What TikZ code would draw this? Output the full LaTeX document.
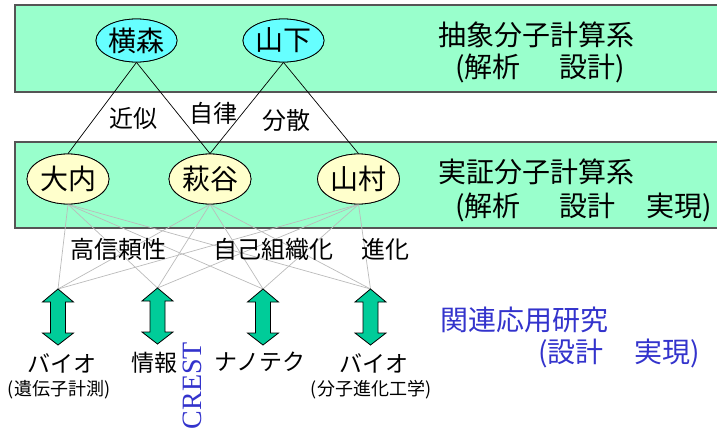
\documentclass[tikz,border=0pt]{standalone}
\usepackage{fontspec}
\newfontfamily\jp{Noto Sans CJK JP}
\newfontfamily\serifcrest{Liberation Serif}
\usetikzlibrary{shapes.geometric}
\definecolor{bandfill}{HTML}{99FFCC}
\definecolor{bandline}{HTML}{555555}
\definecolor{cyanfill}{HTML}{66FFFF}
\definecolor{yellowfill}{HTML}{FFFFCC}
\definecolor{arrowfill}{HTML}{00CC99}
\definecolor{linkgray}{HTML}{BBBBBB}
\definecolor{bluetext}{HTML}{3333CC}
\tikzset{
  band/.style={draw=bandline, line width=1.3pt, fill=bandfill},
  person/.style={ellipse, draw=black, line width=0.8pt, inner sep=0pt,
    font=\jp\fontsize{28}{28}\selectfont},
  topperson/.style={person, fill=cyanfill, minimum width=81pt, minimum height=43pt},
  lowperson/.style={person, fill=yellowfill, minimum width=82pt, minimum height=50pt},
  mainlink/.style={draw=black, line width=0.7pt},
  graylink/.style={draw=linkgray, line width=0.7pt},
  biglabel/.style={inner sep=0pt, anchor=west, font=\jp\fontsize{28}{28}\selectfont},
  midlabel/.style={inner sep=0pt, font=\jp\fontsize{24}{24}\selectfont},
  applabel/.style={inner sep=0pt, font=\jp\fontsize{23}{23}\selectfont},
  sublabel/.style={inner sep=0pt, font=\jp\fontsize{18}{18}\selectfont},
  arrowshape/.style={draw=black, line width=0.8pt, fill=arrowfill, line join=miter},
}
\begin{document}
\begin{tikzpicture}[x=1pt, y=-1pt]
\useasboundingbox (0,0) rectangle (717,431);
% bands
\draw[band] (15,5) rectangle (718,92);
\draw[band] (15,142) rectangle (718,228);
% right side texts
\node[biglabel] (abs) at (438,35) {抽象分子計算系};
\node[biglabel] (absnote) at (455,68) {(解析\hspace{39pt}設計)};
\node[biglabel] (emp) at (438,172) {実証分子計算系};
\node[biglabel] (empnote) at (455,207) {(解析\hspace{39pt}設計\hspace{31pt}実現)};
\node[biglabel, text=bluetext] (app) at (440,320) {関連応用研究};
\node[biglabel, text=bluetext] (appnote) at (538,353) {(設計\hspace{31pt}実現)};
% people
\node[topperson] (yokomori) at (136.5,40.5) {横森};
\node[topperson] (yamashita) at (283.5,40.5) {山下};
\node[lowperson] (ouchi) at (68,179) {大内};
\node[lowperson] (hagiya) at (210,179) {萩谷};
\node[lowperson] (yamamura) at (358.5,179) {山村};
% arrow tips
\coordinate (tip1) at (58,289);
\coordinate (tip2) at (157.5,288);
\coordinate (tip3) at (263,289);
\coordinate (tip4) at (370.5,289);
% gray links
\foreach \s in {ouchi,hagiya,yamamura}{
  \foreach \t in {tip1,tip2,tip3,tip4}{
    \draw[graylink] (\s.south) -- (\t);
  }
}
% black links
\draw[mainlink] (yokomori.south) -- (ouchi.north);
\draw[mainlink] (yokomori.south) -- (hagiya.north);
\draw[mainlink] (yamashita.south) -- (hagiya.north);
\draw[mainlink] (yamashita.south) -- (yamamura.north);
% redraw people on top
\node[topperson] at (yokomori) {横森};
\node[topperson] at (yamashita) {山下};
\node[lowperson] at (ouchi) {大内};
\node[lowperson] at (hagiya) {萩谷};
\node[lowperson] at (yamamura) {山村};
% link labels
\node[midlabel] (kinji) at (133,119) {近似};
\node[midlabel] (jiritsu) at (213,113) {自律};
\node[midlabel] (bunsan) at (286,120) {分散};
\node[midlabel] (koshin) at (118.5,249) {高信頼性};
\node[midlabel] (jiko) at (273,249) {自己組織化};
\node[midlabel] (shinka) at (385,249) {進化};
% double arrows
\foreach \t in {tip1,tip2,tip3,tip4}{
  \draw[arrowshape, shift={(\t)}] (0,0) -- (15.5,13) -- (7.5,13) -- (7.5,44) -- (15.5,44)
    -- (0,56) -- (-15.5,44) -- (-7.5,44) -- (-7.5,13) -- (-15.5,13) -- cycle;
}
% application labels
\node[applabel] (bio1) at (62,363) {バイオ};
\node[sublabel] (bio1note) at (59,390) {(遺伝子計測)};
\node[applabel] (info) at (154.5,363) {情報};
\node[applabel] (nano) at (260,362) {ナノテク};
\node[applabel] (bio2) at (374,363) {バイオ};
\node[sublabel] (bio2note) at (371,390) {(分子進化工学)};
\node[rotate=90, anchor=east, inner sep=0pt, text=bluetext,
  font=\serifcrest\fontsize{28}{28}\selectfont] (crest) at (192.5,342) {CREST};
\end{tikzpicture}
\end{document}
